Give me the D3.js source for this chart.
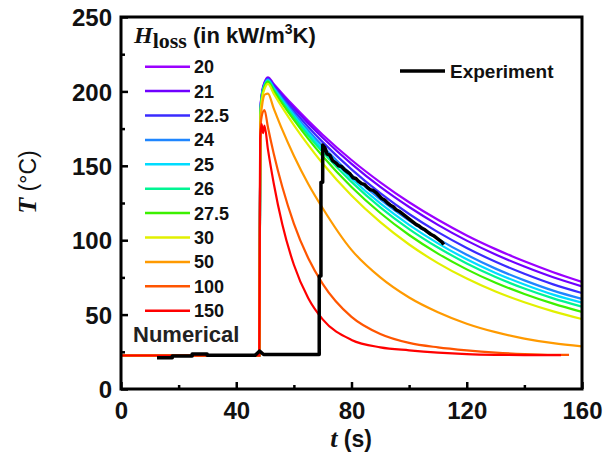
<!DOCTYPE html>
<html><head><meta charset="utf-8">
<script src="https://cdn.jsdelivr.net/npm/d3@7"></script>
<style>body{margin:0;background:#fff}svg{display:block}</style>
</head><body><svg id="c" width="607" height="458"></svg>
<script>
// ---- data ----
const hLabels = ["20","21","22.5","24","25","26","27.5","30","50","100","150"];
const hColors = ["#9b00ff","#6f00ff","#3a2bff","#1f86ff","#00dcff","#00f593","#3cf000","#e2f000","#ff9a00","#ff5500","#ff0000"];
const tUpper = [0,48,48.4,49,50,51,53,56,60,65,70,80,90,100,110,120,130,140,150,160];
const T20   = [22.5,22.5,188.5,200,207,209.5,205.0,198.5,190.1,180.2,170.9,153.9,138.9,125.5,113.7,103.2,94.0,85.8,78.5,72.0];
const T21   = [22.5,22.5,188,199.5,206.5,209,204.3,197.5,188.8,178.5,168.9,151.3,135.8,122.3,110.3,99.7,90.4,82.3,75.1,69.0];
const T22_5 = [22.5,22.5,187.5,199,206,208.5,203.5,196.2,187.0,176.1,165.9,147.6,131.6,117.6,105.4,94.8,85.5,77.4,70.3,64.5];
const T24   = [22.5,22.5,187,198.5,205.5,208,202.7,195.0,185.2,173.7,163.1,144.0,127.5,113.2,100.9,90.2,80.9,73.0,66.1,60.5];
const T25   = [22.5,22.5,186.5,198,205,207.5,202.0,194.0,183.9,172.1,161.1,141.5,124.7,110.3,97.9,87.2,78.0,70.2,63.4,58.0];
const T26   = [22.5,22.5,186,197.5,204.5,207,201.3,193.0,182.6,170.4,159.2,139.2,122.1,107.5,95.1,84.4,75.3,67.5,60.9,55.3];
const T27_5 = [22.5,22.5,185.5,197,204,206.5,200.4,191.7,180.8,168.1,156.4,135.8,118.3,103.5,91.0,80.4,71.4,63.9,57.4,51.8];
const T30   = [22.5,22.5,184,195.5,202.5,205,198.5,189.1,177.4,163.9,151.5,130.0,112.1,97.1,84.6,74.2,65.5,58.3,52.2,47.0];
const T50   = [22.5,22.5,179,191,198,198.5,188.6,174.1,156.8,137.8,121.5,93.5,75.0,61.5,51.6,43.9,38.2,33.9,30.8,28.7];
const t100  = [0,48,48.3,48.8,49.8,51,53,56,60,65,70,80,90,100,110,120,130,140,150,155.5];
const T100  = [22.5,22.5,170,183,187.5,175.9,158.3,135.7,111.2,87.9,70.7,48.5,37,31,28,26,24.5,23.5,23,23];
const t150  = [0,48,48.3,48.8,49.3,49.8,51,53,56,60,65,70,80,90,100,110,120,130,140,152.7];
const T150  = [22.5,22.5,168,178,172,177,161,138.3,110.5,83.5,61,46.8,33,28,26,24.5,23.5,23,22.8,22.8];
const tExp = [12.5,17.8,17.8,24.7,24.7,29.9,29.9,46.5,48.1,49.5,68.8,68.8,69.4,69.4,70.0,70.0,70.8,71.5,72.5,73.4,74.5,75.5,76.5,77.5,78.5,79.5,80.5,81.5,82.5,83.5,84.5,85.5,86.5,87.5,88.5,89.5,90.5,91.5,92.5,93.5,94.5,95.5,96.5,97.5,98.5,99.5,100.5,101.5,102.5,103.5,104.5,105.5,106.5,107.5,108.5,109.5,110.5,111.5,112];
const TExp = [21.0,21.0,22.2,22.2,23.5,23.5,22.6,22.6,25.5,23.2,23.2,76,76,139,139,164,162,158,157,153.5,152,150,149.5,147.5,146,144.5,142,141.5,139.5,138,137.5,135.5,134,133.5,132,130,128,127,125,123.5,122.5,120.5,119.5,118,116.5,115,113.5,112,110.5,109.5,108,107,105.5,104,103,101.5,100,98.5,97];
const xTicks = [0,40,80,120,160];
const xMinor = [20,60,100,140];
const yTicks = [0,50,100,150,200,250];
const yMinor = [25,75,125,175,225];

const series = [
  {t:tUpper,v:T20},{t:tUpper,v:T21},{t:tUpper,v:T22_5},{t:tUpper,v:T24},
  {t:tUpper,v:T25},{t:tUpper,v:T26},{t:tUpper,v:T27_5},{t:tUpper,v:T30},
  {t:tUpper,v:T50},{t:t100,v:T100},{t:t150,v:T150}
];

// ---- layout ----
const svg = d3.select("#c");
const x = d3.scaleLinear().domain([0,160]).range([121,582]);
const y = d3.scaleLinear().domain([0,250]).range([389,17]);
const sans = "'Liberation Sans', Arial, sans-serif";
const serif = "'Liberation Serif', 'Times New Roman', serif";

svg.append("clipPath").attr("id","clip").append("rect")
  .attr("x",x(0)).attr("y",y(250)).attr("width",x(160)-x(0)).attr("height",y(0)-y(250));

const line = d3.line().x(d=>x(d[0])).y(d=>y(d[1])).curve(d3.curveMonotoneX);
const g = svg.append("g").attr("clip-path","url(#clip)");
series.forEach((s,i)=>{
  g.append("path").datum(s.t.map((t,j)=>[t,s.v[j]]))
   .attr("d",line).attr("fill","none").attr("stroke",hColors[i]).attr("stroke-width",2.2);
});
const lineLin = d3.line().x(d=>x(d[0])).y(d=>y(d[1]));
g.append("path").datum(tExp.map((t,j)=>[t,TExp[j]]))
  .attr("d",lineLin).attr("fill","none").attr("stroke","#000").attr("stroke-width",3.5)
  .attr("stroke-linejoin","round");

// ---- axes ----
const ax = svg.append("g").attr("transform",`translate(0,${y(0)})`)
  .call(d3.axisBottom(x).tickValues(xTicks).tickSizeInner(-7).tickSizeOuter(0).tickPadding(12).tickFormat(d3.format("d")));
svg.append("g").attr("transform",`translate(0,${y(0)})`)
  .call(d3.axisBottom(x).tickValues(xMinor).tickSizeInner(-4).tickSizeOuter(0).tickFormat(""));
const ay = svg.append("g").attr("transform",`translate(${x(0)},0)`)
  .call(d3.axisLeft(y).tickValues(yTicks).tickSizeInner(-7).tickSizeOuter(0).tickPadding(9).tickFormat(d3.format("d")));
svg.append("g").attr("transform",`translate(${x(0)},0)`)
  .call(d3.axisLeft(y).tickValues(yMinor).tickSizeInner(-4).tickSizeOuter(0).tickFormat(""));
svg.selectAll(".domain").remove();
svg.selectAll(".tick line").attr("stroke","#000").attr("stroke-width",2.5);
svg.selectAll(".tick text").attr("font-family",sans).attr("font-weight","bold").attr("font-size",24).attr("fill","#111");
ax.selectAll(".tick text").attr("dy","0.75em");
ay.selectAll(".tick text").attr("dy","0.36em");

svg.append("rect").attr("x",x(0)).attr("y",y(250)).attr("width",x(160)-x(0)).attr("height",y(0)-y(250))
  .attr("fill","none").attr("stroke","#000").attr("stroke-width",3);

// axis titles
const xt = svg.append("text").attr("x",351).attr("y",447).attr("text-anchor","middle").attr("fill","#111");
xt.append("tspan").attr("font-family",serif).attr("font-style","italic").attr("font-weight","bold").attr("font-size",26).text("t");
xt.append("tspan").attr("font-family",sans).attr("font-weight","bold").attr("font-size",23).text(" (s)");
const yt = svg.append("text").attr("transform","translate(36,182) rotate(-90)").attr("text-anchor","middle").attr("fill","#111");
yt.append("tspan").attr("font-family",serif).attr("font-style","italic").attr("font-weight","bold").attr("font-size",26).text("T");
yt.append("tspan").attr("font-family",sans).attr("font-size",23).text(" (°C)");

// ---- legend ----
const lt = svg.append("text").attr("x",134).attr("y",43).attr("fill","#111");
lt.append("tspan").attr("font-family",serif).attr("font-style","italic").attr("font-weight","bold").attr("font-size",24).text("H");
lt.append("tspan").attr("font-family",serif).attr("font-weight","bold").attr("font-size",22).attr("dy",5).text("loss");
lt.append("tspan").attr("font-family",sans).attr("font-weight","bold").attr("font-size",22).attr("dy",-5).text(" (in kW/m");
lt.append("tspan").attr("font-family",sans).attr("font-weight","bold").attr("font-size",14).attr("dy",-9).text("3");
lt.append("tspan").attr("font-family",sans).attr("font-weight","bold").attr("font-size",22).attr("dy",9).text("K)");

const leg = svg.append("g");
hLabels.forEach((lab,i)=>{
  const yy = 66.7 + i*24.4;
  leg.append("line").attr("x1",145).attr("x2",190).attr("y1",yy).attr("y2",yy).attr("stroke",hColors[i]).attr("stroke-width",2.5);
  leg.append("text").attr("x",194).attr("y",yy).attr("dy","0.36em").attr("font-family",sans).attr("font-weight","bold")
    .attr("font-size",18).attr("fill","#111").text(lab);
});
svg.append("text").attr("x",133).attr("y",342).attr("font-family",sans).attr("font-weight","bold").attr("font-size",22)
  .attr("fill","#222").text("Numerical");

svg.append("line").attr("x1",400).attr("x2",445).attr("y1",71).attr("y2",71).attr("stroke","#000").attr("stroke-width",3.5);
svg.append("text").attr("x",450).attr("y",71).attr("dy","0.36em").attr("font-family",sans).attr("font-weight","bold")
  .attr("font-size",19).attr("fill","#111").text("Experiment");
</script></body></html>
